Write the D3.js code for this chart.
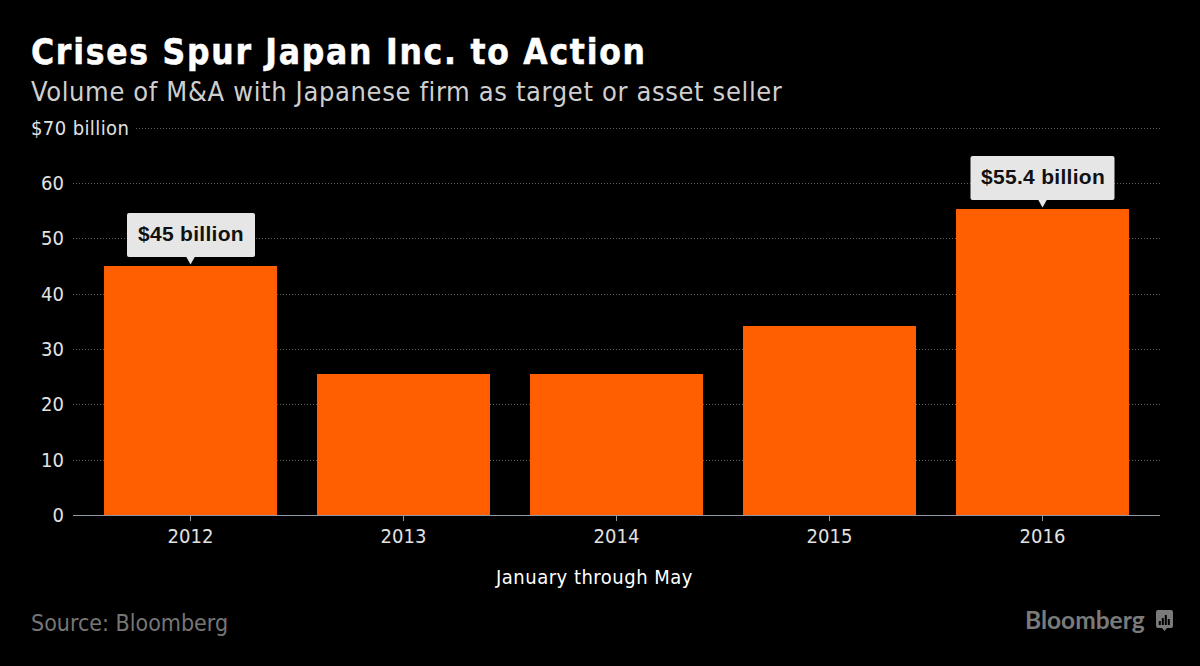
<!DOCTYPE html>
<html><head><meta charset="utf-8">
<script src="https://cdnjs.cloudflare.com/ajax/libs/d3/7.8.5/d3.min.js"></script>
<style>html,body{margin:0;background:#000;overflow:hidden}svg{display:block}text{font-family:"DejaVu Sans Condensed","DejaVu Sans",sans-serif;font-stretch:condensed}</style>
</head><body><svg id="c" width="1200" height="666"></svg>
<script>
const years = ["2012","2013","2014","2015","2016"];
const volumes = [45, 25.6, 25.6, 34.2, 55.4];
const yTicks = [0,10,20,30,40,50,60,70];
const callouts = [{year:"2012",value:45,label:"$45 billion"},{year:"2016",value:55.4,label:"$55.4 billion"}];
const logoBars = [4,7,10,6];

const svg = d3.select("#c");
svg.append("rect").attr("width",1200).attr("height",666).attr("fill","#000");
const x = d3.scaleBand().domain(years).range([84,1149]).paddingInner(0.188).paddingOuter(0.094);
const y = d3.scaleLinear().domain([0,70]).range([515,127.6]);

// grid
const gridTicks = yTicks.filter(d=>d>0);
svg.append("g").selectAll("line").data(gridTicks).join("line")
  .attr("x1",d=>d===70?136:73).attr("x2",1160)
  .attr("y1",d=>Math.round(y(d))+.5).attr("y2",d=>Math.round(y(d))+.5)
  .attr("stroke","#5f5f5f").attr("stroke-width",1).attr("stroke-dasharray","1,2");

// y labels
svg.append("g").selectAll("text").data(yTicks).join("text")
  .attr("x",d=>d===70?31:64).attr("y",d=>y(d)+7)
  .attr("text-anchor",d=>d===70?"start":"end")
  .attr("fill","#e2e2e2").attr("font-size",20)
  .attr("letter-spacing",d=>d===70?0.4:0)
  .text(d=>d===70?"$70 billion":d);

// bars
svg.append("g").selectAll("rect").data(years).join("rect")
  .attr("x",d=>x(d)).attr("width",x.bandwidth())
  .attr("y",(d,i)=>Math.ceil(y(volumes[i]))).attr("height",(d,i)=>y(0)-Math.ceil(y(volumes[i])))
  .attr("fill","#ff5f00");

// axis
svg.append("line").attr("x1",73).attr("x2",1160).attr("y1",515.5).attr("y2",515.5).attr("stroke","#8f99a3");
svg.append("g").selectAll("line").data(years).join("line")
  .attr("x1",d=>x(d)+x.bandwidth()/2).attr("x2",d=>x(d)+x.bandwidth()/2)
  .attr("y1",515).attr("y2",521).attr("stroke","#8f99a3");
svg.append("g").selectAll("text").data(years).join("text")
  .attr("x",d=>x(d)+x.bandwidth()/2).attr("y",543).attr("text-anchor","middle")
  .attr("fill","#e2e2e2").attr("font-size",20).text(d=>d);
svg.append("text").attr("x",594.5).attr("y",584).attr("text-anchor","middle")
  .attr("fill","#fff").attr("font-size",20).attr("letter-spacing",0.5).text("January through May");

// callouts
const cg = svg.append("g").selectAll("g").data(callouts).join("g")
  .attr("transform",d=>`translate(${x(d.year)+x.bandwidth()/2},${Math.ceil(y(d.value))})`);
cg.append("rect").attr("x",d=>d.value>50?-72:-63.5).attr("width",d=>d.value>50?144:128)
  .attr("y",-53).attr("height",44).attr("rx",2).attr("fill","#e6e6e6");
cg.append("path").attr("d","M-4.5,-9.5L4.5,-9.5L0,-1.5Z").attr("fill","#e6e6e6");
cg.append("text").attr("x",0.5).attr("y",-25).attr("text-anchor","middle").attr("fill","#111")
  .attr("font-size",21).attr("font-weight",700).attr("letter-spacing",0.3)
  .style("font-family","'Liberation Sans',Arial,sans-serif").style("font-stretch","normal").text(d=>d.label);

// titles
svg.append("text").attr("x",31).attr("y",64).attr("fill","#fff").attr("stroke","#fff").attr("stroke-width",0.5).attr("font-size",35).attr("font-weight",700).attr("letter-spacing",1.75).text("Crises Spur Japan Inc. to Action");
svg.append("text").attr("x",31).attr("y",101).attr("fill","#cfcfcf").attr("font-size",27).attr("letter-spacing",0.64).text("Volume of M&A with Japanese firm as target or asset seller");
svg.append("text").attr("x",31).attr("y",631).attr("fill","#767676").attr("font-size",23).text("Source: Bloomberg");

// logo
svg.append("text").attr("x",1025).attr("y",629).attr("fill","#7a7a7a").attr("font-size",24.5).attr("font-weight",700)
  .style("font-family","Lato,'Open Sans',sans-serif").style("font-stretch","normal").text("Bloomberg");
const lg = svg.append("g").attr("transform","translate(1156,610)");
lg.append("path").attr("d","M2,0H15a2,2 0 0 1 2,2V16a2,2 0 0 1 -2,2H11L8.5,21L6,18H2a2,2 0 0 1 -2,-2V2a2,2 0 0 1 2,-2Z").attr("fill","#7a7a7a");
lg.selectAll("rect").data(logoBars).join("rect").attr("x",(d,i)=>2.8+i*3).attr("width",2).attr("y",d=>15-d).attr("height",d=>d).attr("fill","#000");
</script></body></html>
